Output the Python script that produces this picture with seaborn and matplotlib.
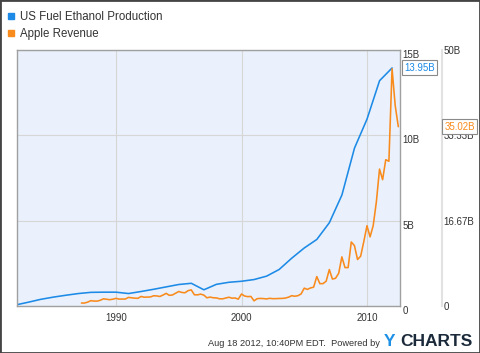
import pandas as pd
import numpy as np
import matplotlib
matplotlib.use('Agg')
import matplotlib.pyplot as plt
from matplotlib.lines import Line2D
from matplotlib.patches import Rectangle
from datetime import datetime
import seaborn as sns

# Data (billions)
ethanol_years = list(range(1982, 2013))
ethanol_bn = [0.06, 0.22, 0.39, 0.52, 0.63, 0.73, 0.80, 0.81, 0.81, 0.73,
              0.85, 0.98, 1.12, 1.26, 1.33, 0.95, 1.27, 1.39, 1.45, 1.55,
              1.75, 2.14, 2.80, 3.40, 3.90, 4.88, 6.50, 9.25, 10.95, 13.20,
              13.95]

apple_quarters = pd.period_range('1987Q1', '2012Q2', freq='Q')
apple_bn = [0.58, 0.58, 0.76, 1.04,
            0.96, 0.95, 1.12, 1.40,
            1.32, 1.23, 1.33, 1.49,
            1.35, 1.36, 1.36, 1.68,
            1.60, 1.53, 1.50, 1.86,
            1.72, 1.74, 1.77, 2.00,
            1.97, 1.86, 2.14, 2.47,
            2.08, 2.15, 2.49, 2.83,
            2.65, 2.58, 3.00, 3.15,
            2.19, 2.18, 2.32, 2.13,
            1.60, 1.74, 1.61, 1.58,
            1.41, 1.40, 1.56, 1.71,
            1.53, 1.56, 1.34, 2.34,
            1.95, 1.83, 1.87, 1.01,
            1.43, 1.48, 1.45, 1.38,
            1.50, 1.43, 1.44, 1.47,
            1.48, 1.55, 1.72, 2.01,
            1.91, 2.01, 2.35, 3.49,
            3.24, 3.52, 3.68, 5.75,
            4.36, 4.37, 4.84, 7.12,
            5.26, 5.41, 6.40, 9.60,
            7.50, 7.50, 12.50, 11.80,
            9.08, 9.73, 12.60, 15.68,
            13.50, 15.70, 20.34, 26.74,
            24.67, 28.57, 28.27, 46.33,
            39.19, 35.02]

x_ticks = [1990, 2000, 2010]
left_ticks = [0, 5, 10, 15]
left_labels = ['0', '5B', '10B', '15B']
right_ticks = [0, 16.67, 33.33, 50]
right_labels = ['0', '16.67B', '33.33B', '50B']

blue = '#1c8ae6'
orange = '#f98a1c'
text_col = '#333333'

ethanol = pd.DataFrame({'Date': pd.to_datetime([f'{y}-01-01' for y in ethanol_years]),
                        'Value': ethanol_bn})
apple = pd.DataFrame({'Date': apple_quarters.end_time.normalize(), 'Value': apple_bn})

sns.set_style('white')
plt.rcParams['font.family'] = ['Liberation Sans', 'DejaVu Sans']

fig = plt.figure(figsize=(4.8, 3.53), dpi=100)
ax = fig.add_axes([17 / 480, 1 - 306 / 353, 383 / 480, 256 / 353])
ax.set_facecolor('#eaf1fc')

sns.lineplot(data=ethanol, x='Date', y='Value', ax=ax, color=blue, linewidth=1.15)
ax2 = ax.twinx()
sns.lineplot(data=apple, x='Date', y='Value', ax=ax2, color=orange, linewidth=1.15)

ax.set_xlim(datetime(1982, 2, 10), datetime(2012, 8, 18))
ax.set_ylim(0, 15)
ax2.set_ylim(0, 50)
for a in (ax, ax2):
    a.set_xlabel('')
    a.set_ylabel('')

ax.set_xticks([datetime(y, 1, 1) for y in x_ticks])
ax.set_xticklabels([str(y) for y in x_ticks])
ax.set_yticks(left_ticks)
ax.set_yticklabels(left_labels)
ax.yaxis.tick_right()
ax.tick_params(axis='both', length=0, labelsize=7, labelcolor=text_col)
ax.tick_params(axis='x', pad=5)
ax.tick_params(axis='y', pad=2)
for lab in ax.get_yticklabels():
    lab.set_va('top')

ax2.set_yticks(right_ticks)
ax2.set_yticklabels(right_labels)
ax2.tick_params(axis='y', length=0, labelsize=7, labelcolor=text_col, pad=1.5)
for lab in ax2.get_yticklabels():
    lab.set_va('top')

ax.grid(True, color='#d6d6d6', linewidth=0.8)
ax2.grid(False)
for s in ax.spines.values():
    s.set_color('#a0a0a0')
    s.set_linewidth(1)
for name in ('left', 'top', 'bottom'):
    ax2.spines[name].set_visible(False)
ax2.spines['right'].set_position(('outward', 30))
ax2.spines['right'].set_color('#e2e2e2')
ax2.spines['right'].set_linewidth(1.5)

# value tags
ax.annotate('13.95B', xy=(1, ethanol_bn[-1]), xycoords=('axes fraction', 'data'),
            xytext=(3, 0), textcoords='offset points', ha='left', va='center',
            fontsize=7, color=blue, annotation_clip=False, zorder=10,
            bbox=dict(boxstyle='square,pad=0.25', fc='white', ec='#8a8a8a', lw=0.8))
ax2.annotate('35.02B', xy=(1, apple_bn[-1]), xycoords=('axes fraction', 'data'),
             xytext=(32, 0), textcoords='offset points', ha='left', va='center',
             fontsize=7, color=orange, annotation_clip=False, zorder=10,
             bbox=dict(boxstyle='square,pad=0.25', fc='white', ec='#8a8a8a', lw=0.8))

# legend
handles = [Line2D([], [], marker='s', ls='', color=blue, markersize=5),
           Line2D([], [], marker='s', ls='', color=orange, markersize=5)]
fig.legend(handles, ['US Fuel Ethanol Production', 'Apple Revenue'],
           loc='upper left', bbox_to_anchor=(0.01, 0.974), frameon=False,
           fontsize=8.3, handlelength=0.6, handletextpad=0.5, labelspacing=0.4,
           borderaxespad=0, borderpad=0.2, labelcolor=text_col)

# footer
fig.text(380 / 480, 1 - 346 / 353, 'Aug 18 2012, 10:40PM EDT.  Powered by',
         ha='right', va='baseline', fontsize=6.7, color=text_col)
fig.text(384 / 480, 1 - 346 / 353, 'Y', ha='left', va='baseline',
         fontsize=12.5, fontweight='bold', color='#1e90e6')
fig.text(400 / 480, 1 - 346 / 353, 'CHARTS', ha='left', va='baseline',
         fontsize=12.5, fontweight='bold', color='#1b2a3a')

fig.patches.append(Rectangle((0, 0), 1, 1, transform=fig.transFigure,
                             fill=False, ec='#444444', lw=2))

fig.savefig('out.png', dpi=100)
